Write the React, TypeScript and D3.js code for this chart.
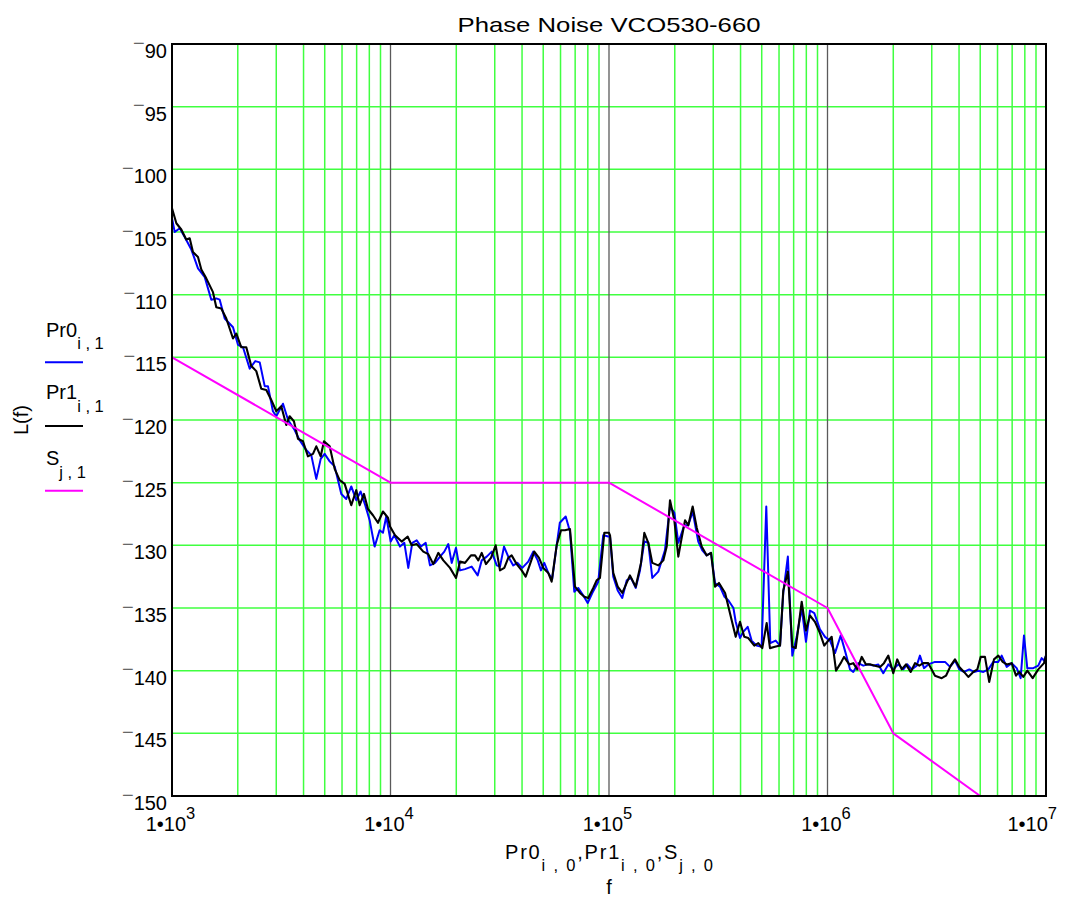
import React from 'react';
import * as d3 from 'd3';

const title = 'Phase Noise VCO530-660';
const yTicks = [-90, -95, -100, -105, -110, -115, -120, -125, -130, -135, -140, -145, -150];
const xDecades = [1e3, 1e4, 1e5, 1e6, 1e7];
const xDecadeExp = ['3', '4', '5', '6', '7'];

// Pr0 (blue): [frequency Hz, L(f) dBc/Hz]
const pr0: [number, number][] = [
  [1000, -103.9], [1029, -105.0], [1085, -104.7], [1143, -105.4], [1226, -106.4], [1315, -107.9],
  [1412, -108.6], [1513, -110.4], [1595, -110.3], [1653, -110.4], [1743, -111.9], [1902, -112.6],
  [2004, -114.0], [2113, -114.2], [2268, -115.9], [2406, -115.3], [2521, -115.4], [2656, -117.3],
  [2749, -117.3], [2897, -119.3], [3001, -119.7], [3221, -118.7], [3399, -120.0], [3641, -120.8],
  [3833, -121.6], [4116, -122.4], [4339, -122.8], [4575, -124.7], [4793, -123.1], [4995, -122.7],
  [5268, -123.3], [5552, -123.7], [5955, -125.9], [6274, -126.3], [6615, -125.3], [6972, -126.4],
  [7296, -125.7], [7663, -126.8], [8027, -128.0], [8461, -130.1], [8918, -128.8], [9235, -129.0],
  [9563, -127.7], [10020, -129.7], [10410, -129.2], [11050, -130.1], [11570, -129.8], [12060, -131.8],
  [12580, -129.8], [13180, -129.6], [13790, -130.1], [14490, -129.8], [15160, -131.6], [15990, -131.4],
  [16850, -130.9], [17630, -130.5], [18390, -129.9], [19060, -131.4], [19940, -130.2], [20800, -132.0],
  [21930, -131.9], [23520, -131.7], [25060, -132.4], [26150, -131.2], [27570, -130.9], [29060, -130.5],
  [30630, -131.6], [31700, -131.7], [33080, -130.1], [34590, -130.9], [36450, -131.6], [38130, -131.4],
  [40100, -131.8], [42700, -131.3], [45010, -130.5], [47180, -131.2], [48830, -132.0], [50560, -131.4],
  [52730, -132.2], [54960, -132.7], [57610, -130.0], [59540, -128.2], [63360, -127.7], [66280, -128.9],
  [69360, -133.7], [72360, -133.4], [76280, -134.0], [79880, -134.6], [83850, -133.8], [89270, -132.9],
  [94090, -129.2], [99260, -129.3], [101100, -129.3], [104600, -132.5], [109600, -133.6], [115000, -134.2],
  [120500, -132.8], [126100, -132.6], [132500, -133.4], [138600, -132.0], [145100, -129.7], [151300, -129.8],
  [157800, -132.6], [168100, -132.1], [180300, -130.4], [190200, -126.9], [199100, -127.4], [207600, -129.8],
  [221100, -128.4], [230600, -128.4], [241500, -127.3], [256200, -129.7], [267300, -130.4], [279900, -130.8],
  [293000, -130.6], [305600, -133.0], [322100, -133.3], [337800, -134.1], [352200, -134.4], [371000, -135.0],
  [380100, -136.1], [397600, -137.4], [411600, -136.9], [431200, -136.5], [449500, -137.6], [473800, -138.0],
  [499500, -138.1], [524600, -126.9], [547200, -137.8], [579000, -137.6], [606400, -138.0], [627400, -133.8],
  [658500, -130.9], [690100, -138.8], [722900, -137.3], [762000, -135.0], [797100, -137.7], [831200, -135.2],
  [869900, -135.4], [923500, -136.7], [974000, -137.3], [1027000, -137.6], [1082000, -138.6], [1149000, -137.2],
  [1202000, -138.4], [1268000, -139.9], [1312000, -140.1], [1383000, -139.4], [1458000, -139.6], [1537000, -139.5],
  [1620000, -139.6], [1708000, -139.5], [1800000, -140.2], [1898000, -139.5], [2000000, -139.9], [2109000, -139.5],
  [2224000, -139.9], [2319000, -139.5], [2429000, -139.9], [2560000, -139.6], [2649000, -138.8], [2764000, -139.8],
  [2893000, -139.5], [3104000, -139.3], [3274000, -139.3], [3451000, -139.3], [3638000, -139.7], [3832000, -139.2],
  [4010000, -139.9], [4215000, -140.1], [4456000, -139.9], [4682000, -140.1], [4900000, -140.0], [5166000, -140.1],
  [5446000, -139.9], [5740000, -139.3], [6050000, -139.3], [6269000, -138.8], [6608000, -139.7], [6965000, -139.4],
  [7344000, -139.8], [7655000, -140.6], [7929000, -137.2], [8210000, -139.8], [8745000, -139.8], [9219000, -139.6],
  [9552000, -139.0], [9791000, -139.2], [10000000, -138.8],
];

// Pr1 (black)
const pr1: [number, number][] = [
  [1000, -103.1], [1047, -104.3], [1103, -104.8], [1162, -105.6], [1205, -105.5], [1247, -106.6],
  [1315, -107.0], [1362, -108.0], [1435, -108.7], [1540, -109.8], [1595, -111.0], [1681, -111.1],
  [1772, -111.9], [1902, -113.5], [1970, -113.1], [2076, -114.2], [2188, -114.2], [2306, -115.7],
  [2431, -116.1], [2562, -117.5], [2701, -117.6], [2847, -118.4], [3001, -119.3], [3163, -118.9],
  [3334, -120.4], [3455, -119.7], [3614, -120.1], [3772, -121.5], [3976, -121.7], [4191, -122.9],
  [4418, -122.7], [4575, -122.1], [4793, -122.9], [4961, -121.7], [5268, -122.1], [5552, -123.9],
  [5853, -124.8], [6169, -125.1], [6615, -126.8], [6972, -125.6], [7229, -126.8], [7563, -125.9],
  [7886, -127.1], [8312, -127.6], [8761, -128.2], [9235, -127.3], [9737, -127.8], [9950, -128.5],
  [10490, -129.2], [11250, -129.7], [11990, -129.3], [12500, -130.0], [13180, -129.9], [14130, -130.5],
  [14890, -130.7], [15700, -131.5], [16550, -130.6], [17450, -131.2], [18720, -131.8], [19940, -132.6],
  [20800, -131.3], [21930, -131.4], [23350, -130.8], [24370, -130.8], [25230, -131.2], [26150, -130.6],
  [27350, -131.5], [28830, -131.0], [30300, -130.0], [31700, -132.0], [33180, -131.8], [34590, -131.0],
  [35840, -130.8], [37800, -131.5], [39850, -132.0], [41560, -132.5], [43500, -131.5], [45510, -130.5],
  [47830, -131.0], [50030, -131.8], [52730, -132.2], [54640, -132.9], [57610, -130.0], [60300, -128.8],
  [62880, -128.8], [66280, -128.7], [69870, -133.3], [73640, -133.8], [77100, -134.1], [80350, -134.2],
  [84700, -133.4], [87790, -132.8], [90910, -132.6], [95170, -129.0], [100000, -129.0], [101100, -129.2],
  [104600, -132.2], [109600, -133.3], [115000, -133.8], [120500, -133.0], [124700, -132.4], [132500, -133.3],
  [140100, -131.4], [145100, -129.0], [151300, -129.8], [157800, -131.4], [168100, -131.6], [177200, -131.2],
  [183700, -130.1], [190200, -126.4], [199100, -128.0], [207600, -130.9], [215100, -129.4], [222900, -128.0],
  [230600, -128.4], [241500, -126.9], [252100, -128.6], [265600, -130.1], [279900, -130.8], [293000, -130.6],
  [305600, -133.3], [318700, -133.0], [339900, -133.8], [357600, -135.4], [380100, -137.3], [397600, -136.1],
  [416000, -137.3], [433900, -137.4], [462300, -138.0], [482300, -137.8], [503100, -138.2], [526800, -136.2],
  [545400, -138.2], [574800, -138.1], [606400, -138.0], [627400, -133.6], [658500, -132.1], [690100, -138.1],
  [715400, -138.2], [762000, -134.5], [797100, -136.8], [831200, -135.6], [876100, -136.1], [923500, -137.0],
  [966300, -138.0], [1008000, -137.6], [1045000, -137.3], [1094000, -140.0], [1149000, -139.4], [1190000, -138.9],
  [1258000, -139.5], [1312000, -139.4], [1369000, -139.9], [1434000, -138.9], [1500000, -139.5], [1576000, -139.5],
  [1649000, -139.6], [1739000, -139.7], [1813000, -139.4], [1898000, -138.8], [2000000, -140.2], [2086000, -139.1],
  [2186000, -139.9], [2287000, -139.5], [2403000, -140.1], [2515000, -139.4], [2631000, -139.6], [2744000, -139.4],
  [2893000, -139.4], [3104000, -140.4], [3332000, -140.6], [3486000, -140.4], [3664000, -139.6], [3832000, -139.1],
  [4010000, -139.7], [4215000, -140.1], [4409000, -140.5], [4647000, -140.1], [4848000, -139.9], [5026000, -138.9],
  [5256000, -138.9], [5496000, -140.9], [5780000, -139.1], [6050000, -138.8], [6336000, -139.3], [6608000, -139.5],
  [6965000, -139.4], [7290000, -140.4], [7546000, -140.1], [7870000, -140.5], [8210000, -140.0], [8690000, -140.6],
  [9219000, -139.9], [9791000, -139.4], [10000000, -138.8],
];

// S (magenta) specification mask
const sMask: [number, number][] = [
  [1e3, -115], [1e4, -125], [1e5, -125], [1e6, -135], [2e6, -145], [5e6, -150],
];

const FONT = '"Liberation Sans", Arial, Helvetica, sans-serif';
const L = 172, R = 1046, T = 44, B = 796;

export default function App() {
  const x = d3.scaleLog().domain([1e3, 1e7]).range([L, R]);
  const y = d3.scaleLinear().domain([-150, -90]).range([B, T]);
  const line = d3.line<[number, number]>().x(d => x(d[0])).y(d => y(d[1]));
  const allTicks = x.ticks();
  const isDecade = (v: number) => Math.abs(Math.log10(v) - Math.round(Math.log10(v))) < 1e-9;
  const minor = allTicks.filter(v => !isDecade(v));
  const innerDecades = xDecades.slice(1, -1);

  return (
    <svg width={1077} height={899} style={{ position: 'absolute', left: 0, top: 0, background: '#fff' }}
      fontFamily={FONT}>
      <defs>
        <clipPath id="plotclip">
          <rect x={L} y={T} width={R - L} height={B - T} />
        </clipPath>
      </defs>
      <rect x={0} y={0} width={1077} height={899} fill="#fff" />
      <text x={(L + R) / 2} y={31.5} textAnchor="middle" fontSize={21} textLength={303}
        lengthAdjust="spacingAndGlyphs" fill="#000">{title}</text>

      {/* grid */}
      {minor.map(v => (
        <line key={'vg' + v} x1={x(v)} x2={x(v)} y1={T} y2={B} stroke="#40ff40" strokeWidth={1.5} />
      ))}
      {yTicks.slice(1, -1).map(v => (
        <line key={'hg' + v} x1={L} x2={R} y1={y(v)} y2={y(v)} stroke="#40ff40" strokeWidth={1.5} />
      ))}
      {innerDecades.map(v => (
        <line key={'dg' + v} x1={x(v)} x2={x(v)} y1={T} y2={B} stroke="#5a5a5a" strokeWidth={1.3} />
      ))}

      {/* data */}
      <g clipPath="url(#plotclip)" fill="none" strokeLinejoin="round">
        <path d={line(pr0) || ''} stroke="#0000ff" strokeWidth={2} />
        <path d={line(pr1) || ''} stroke="#000000" strokeWidth={2.1} />
        <path d={line(sMask) || ''} stroke="#ff00ff" strokeWidth={2} />
      </g>

      {/* frame */}
      <rect x={L} y={T} width={R - L} height={B - T} fill="none" stroke="#000" strokeWidth={2} />

      {/* y tick labels */}
      {yTicks.map(v => (
        <text key={'yl' + v} x={167} y={y(v) + 14} textAnchor="end" fontSize={20} fill="#000">
          <tspan fill="#666" dy={-8.2}>−</tspan>
          <tspan dy={8.2}>{Math.abs(v)}</tspan>
        </text>
      ))}

      {/* x tick labels */}
      {xDecades.map((v, i) => {
        const last = i === xDecades.length - 1;
        return (
          <text key={'xl' + v} x={last ? 1057 : x(v) - 1.5} y={831} textAnchor={last ? 'end' : 'middle'}
            fontSize={20} fill="#000">
            1•10<tspan dy={-12.5} fontSize={16.5}>{xDecadeExp[i]}</tspan>
          </text>
        );
      })}

      {/* y axis label */}
      <text transform="translate(28,420) rotate(-90)" textAnchor="middle" fontSize={20} fill="#000">L(f)</text>

      {/* legend */}
      <text x={46} y={336.7} fontSize={20} fill="#000">Pr0<tspan dy={12.3} fontSize={16.5}>i , 1</tspan></text>
      <line x1={45} x2={83} y1={362.3} y2={362.3} stroke="#0000ff" strokeWidth={2} />
      <text x={46} y={399.3} fontSize={20} fill="#000">Pr1<tspan dy={13} fontSize={16.5}>i , 1</tspan></text>
      <line x1={45} x2={83} y1={426} y2={426} stroke="#000" strokeWidth={2} />
      <text x={46} y={465} fontSize={20} fill="#000">S<tspan dy={13} fontSize={16.5}>j , 1</tspan></text>
      <line x1={45} x2={83} y1={490.7} y2={490.7} stroke="#ff00ff" strokeWidth={2} />

      {/* x axis label */}
      <text x={609} y={859} textAnchor="middle" fontSize={20} fill="#000" textLength={208} lengthAdjust="spacing">
        Pr0<tspan dy={12} fontSize={16.5}>i , 0</tspan><tspan dy={-12}>,Pr1</tspan><tspan dy={12} fontSize={16.5}>i , 0</tspan><tspan dy={-12}>,S</tspan><tspan dy={12} fontSize={16.5}>j , 0</tspan>
      </text>
      <text x={609} y={894} textAnchor="middle" fontSize={20} fill="#000">f</text>
    </svg>
  );
}
